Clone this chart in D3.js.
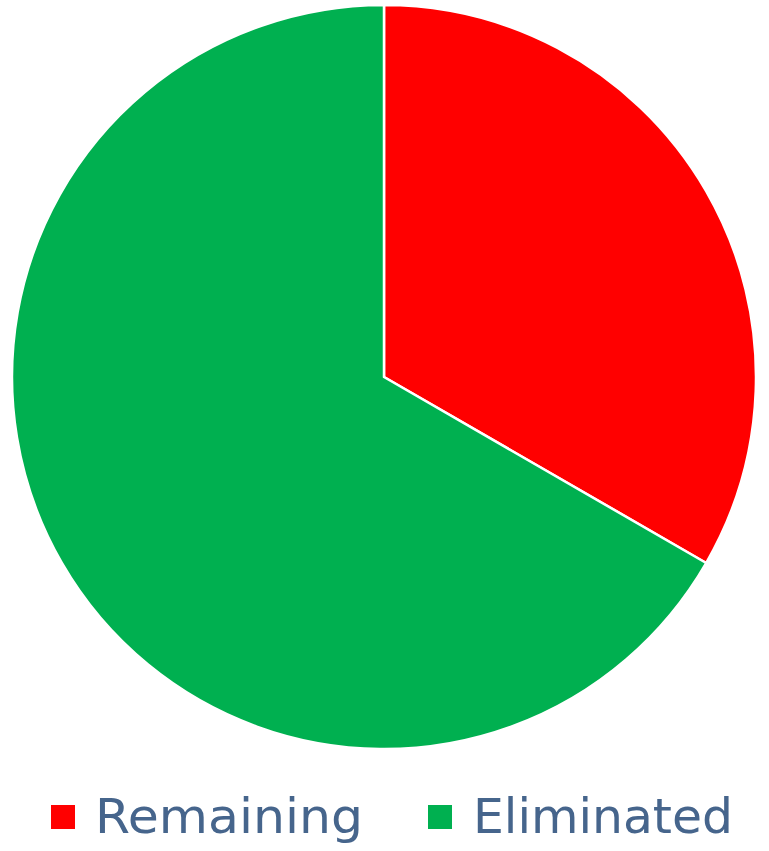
<!DOCTYPE html>
<html>
<head>
<meta charset="utf-8">
<script src="https://cdn.jsdelivr.net/npm/d3@7"></script>
<style>
  body { margin: 0; background: #fff; }
  svg { display: block; }
</style>
</head>
<body>
<div id="chart"></div>
<script>
// chart data
const labels = ['Remaining', 'Eliminated'];
const values = [1, 2];
const colors = ['#FF0000', '#00B050'];

const width = 769;
const height = 851;
const radius = 372;
const cx = 384;
const cy = 377;

const svg = d3.select('#chart')
    .append('svg')
    .attr('width', width)
    .attr('height', height);

const pie = d3.pie().sort(null).value((d) => d);
const arc = d3.arc().innerRadius(0).outerRadius(radius);
const color = d3.scaleOrdinal().domain(labels).range(colors);

// slices
svg.append('g')
    .attr('transform', `translate(${cx}, ${cy})`)
    .selectAll('path')
    .data(pie(values))
    .enter()
    .append('path')
    .attr('d', arc)
    .attr('fill', (d, i) => color(labels[i]))
    .attr('stroke', '#fff')
    .attr('stroke-width', 2.5)
    .attr('stroke-linejoin', 'round');

// legend
const legendX = [51, 428];
const legendW = [268, 260];

const legend = svg.selectAll('.legend')
    .data(labels)
    .enter()
    .append('g')
    .attr('class', 'legend')
    .attr('transform', (d, i) => `translate(${legendX[i]}, 805)`);

legend.append('rect')
    .attr('width', 24)
    .attr('height', 24)
    .attr('fill', (d) => color(d));

legend.append('text')
    .attr('x', (d, i) => i === 0 ? 44 : 45)
    .attr('y', 28)
    .attr('font-family', '"DejaVu Sans", sans-serif')
    .attr('font-size', '48px')
    .attr('fill', '#46658C')
    .attr('textLength', (d, i) => legendW[i])
    .attr('lengthAdjust', 'spacingAndGlyphs')
    .text((d) => d);
</script>
</body>
</html>
